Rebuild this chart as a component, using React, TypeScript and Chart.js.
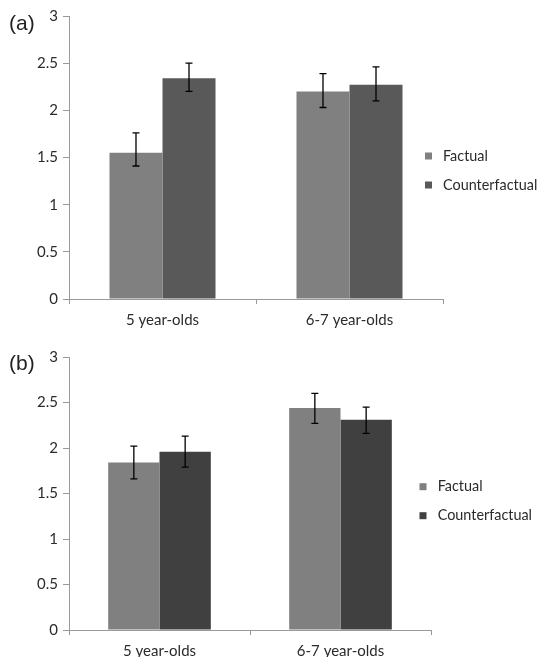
import React, { useEffect, useRef } from 'react';
import { Chart, registerables } from 'chart.js';

Chart.register(...registerables);

// ---------- data ----------
const categories = ['5 year-olds', '6-7 year-olds'];
const seriesNames = ['Factual', 'Counterfactual'];

// panel (a)
const aFactual = [1.55, 2.2];
const aCounterfactual = [2.34, 2.27];
const aFactualLow = [1.41, 2.03];
const aFactualHigh = [1.76, 2.39];
const aCounterLow = [2.2, 2.1];
const aCounterHigh = [2.5, 2.46];

// panel (b)
const bFactual = [1.84, 2.44];
const bCounterfactual = [1.96, 2.31];
const bFactualLow = [1.66, 2.27];
const bFactualHigh = [2.02, 2.6];
const bCounterLow = [1.79, 2.16];
const bCounterHigh = [2.13, 2.45];

const yMin = 0;
const yMax = 3;
const yStep = 0.5;

// ---------- styles ----------
const FONT = "Lato, 'Open Sans', sans-serif";
const FONT_SIZE = 15;
const LEGEND_FONT_SIZE = 14.4;
const TEXT_COLOR = '#2b2b2b';
const AXIS_COLOR = '#9a9a9a';
const FACTUAL_COLOR = '#808080';
const CF_COLOR_A = '#595959';
const CF_COLOR_B = '#404040';

const errorBarPlugin = {
  id: 'errorBars',
  afterDatasetsDraw(chart: any) {
    const ctx = chart.ctx;
    const yScale = chart.scales.y;
    ctx.save();
    ctx.strokeStyle = '#000000';
    ctx.lineWidth = 1.3;
    chart.data.datasets.forEach((ds: any, di: number) => {
      const meta = chart.getDatasetMeta(di);
      meta.data.forEach((bar: any, i: number) => {
        const x = bar.x;
        const yHi = yScale.getPixelForValue(ds.errHigh[i]);
        const yLo = yScale.getPixelForValue(ds.errLow[i]);
        const cap = 3.5;
        ctx.beginPath();
        ctx.moveTo(x, yHi);
        ctx.lineTo(x, yLo);
        ctx.moveTo(x - cap, yHi);
        ctx.lineTo(x + cap, yHi);
        ctx.moveTo(x - cap, yLo);
        ctx.lineTo(x + cap, yLo);
        ctx.stroke();
      });
    });
    ctx.restore();
  },
};

const sideLegendPlugin = {
  id: 'sideLegend',
  afterDraw(chart: any, _args: any, opts: any) {
    const ctx = chart.ctx;
    ctx.save();
    ctx.font = `${LEGEND_FONT_SIZE}px ${FONT}`;
    ctx.textBaseline = 'middle';
    ctx.textAlign = 'left';
    chart.data.datasets.forEach((ds: any, i: number) => {
      const cy = opts.y + i * opts.gap;
      ctx.fillStyle = ds.backgroundColor;
      ctx.fillRect(opts.boxX, cy - opts.box / 2, opts.box, opts.box);
      ctx.fillStyle = TEXT_COLOR;
      ctx.fillText(ds.label, opts.textX, cy);
    });
    ctx.restore();
  },
};

function makeConfig(
  factual: number[],
  counter: number[],
  fLow: number[],
  fHigh: number[],
  cLow: number[],
  cHigh: number[],
  cfColor: string,
  padding: any,
  xAxisHeight: number,
  legendOpts: any
) {
  return {
    type: 'bar',
    data: {
      labels: categories,
      datasets: [
        {
          label: seriesNames[0],
          data: factual,
          backgroundColor: FACTUAL_COLOR,
          errLow: fLow,
          errHigh: fHigh,
          categoryPercentage: 0.567,
          barPercentage: 1,
        },
        {
          label: seriesNames[1],
          data: counter,
          backgroundColor: cfColor,
          errLow: cLow,
          errHigh: cHigh,
          categoryPercentage: 0.567,
          barPercentage: 1,
        },
      ],
    },
    options: {
      responsive: false,
      animation: false,
      layout: { padding },
      plugins: {
        legend: { display: false },
        tooltip: { enabled: false },
        sideLegend: legendOpts,
      },
      scales: {
        x: {
          offset: true,
          afterFit: (s: any) => {
            s.height = xAxisHeight;
          },
          grid: {
            display: true,
            offset: true,
            drawOnChartArea: false,
            drawTicks: true,
            tickLength: 5,
            color: AXIS_COLOR,
          },
          border: { display: true, color: AXIS_COLOR, width: 1 },
          ticks: {
            color: TEXT_COLOR,
            font: { family: FONT, size: FONT_SIZE },
            padding: 7,
            maxRotation: 0,
          },
        },
        y: {
          min: yMin,
          max: yMax,
          afterFit: (s: any) => {
            s.width = 69;
          },
          grid: {
            display: true,
            drawOnChartArea: false,
            drawTicks: true,
            tickLength: 6,
            color: AXIS_COLOR,
          },
          border: { display: true, color: AXIS_COLOR, width: 1 },
          ticks: {
            stepSize: yStep,
            color: TEXT_COLOR,
            font: { family: FONT, size: FONT_SIZE },
            padding: 5,
            callback: (v: any) => String(Number(v)),
          },
        },
      },
    },
    plugins: [errorBarPlugin, sideLegendPlugin],
  };
}

function BarPanel(props: { config: any; width: number; height: number }) {
  const ref = useRef<HTMLCanvasElement>(null);
  useEffect(() => {
    const chart = new Chart(ref.current as HTMLCanvasElement, props.config);
    return () => chart.destroy();
  }, []);
  return (
    <canvas
      ref={ref}
      width={props.width}
      height={props.height}
      style={{ display: 'block', width: props.width, height: props.height }}
    />
  );
}

const panelLabelStyle: React.CSSProperties = {
  position: 'absolute',
  left: 9,
  fontFamily: "'Liberation Sans', Arial, sans-serif",
  fontSize: 21,
  lineHeight: '22px',
  color: '#222',
};

export default function App() {
  const configA = makeConfig(
    aFactual,
    aCounterfactual,
    aFactualLow,
    aFactualHigh,
    aCounterLow,
    aCounterHigh,
    CF_COLOR_A,
    { top: 16, left: 0, right: 95, bottom: 0 },
    29,
    { boxX: 425, box: 7, textX: 443, y: 156, gap: 29 }
  );
  const configB = makeConfig(
    bFactual,
    bCounterfactual,
    bFactualLow,
    bFactualHigh,
    bCounterLow,
    bCounterHigh,
    CF_COLOR_B,
    { top: 27, left: 0, right: 107, bottom: 0 },
    27,
    { boxX: 419.5, box: 7, textX: 437.7, y: 156.7, gap: 29 }
  );
  return (
    <div
      style={{
        position: 'absolute',
        left: 0,
        top: 0,
        width: 538,
        height: 657,
        background: '#ffffff',
      }}
    >
      <div style={{ position: 'absolute', left: 0, top: 0 }}>
        <BarPanel config={configA} width={538} height={328} />
      </div>
      <div style={{ position: 'absolute', left: 0, top: 330 }}>
        <BarPanel config={configB} width={538} height={327} />
      </div>
      <div style={{ ...panelLabelStyle, top: 12 }}>(a)</div>
      <div style={{ ...panelLabelStyle, top: 352 }}>(b)</div>
    </div>
  );
}
